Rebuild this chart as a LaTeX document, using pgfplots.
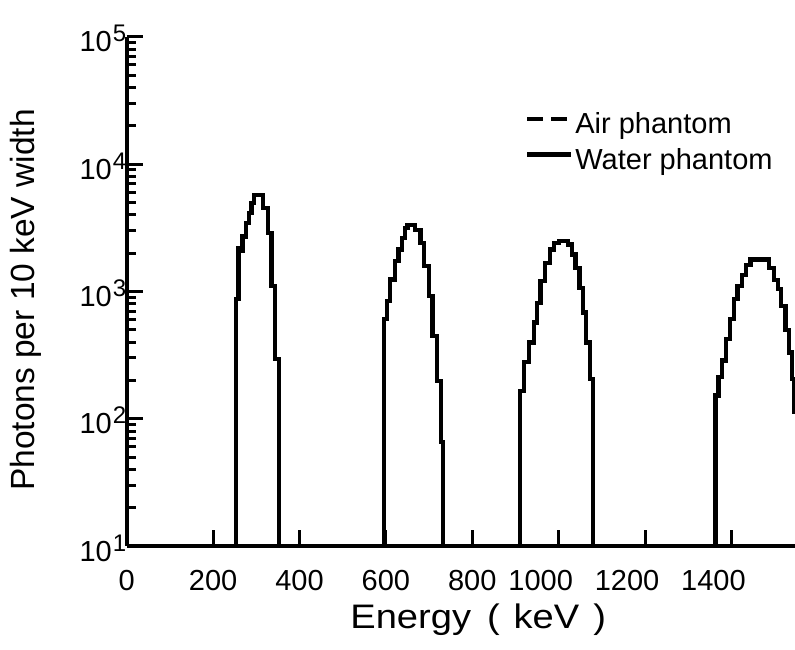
\documentclass[border=0pt]{standalone}
\usepackage{fontspec}
\setmainfont{Liberation Sans}
\newfontfamily\widefont[FakeStretch=1.12]{Liberation Sans}
\usepackage{pgfplots}
\pgfplotsset{compat=1.18}
\newcommand{\tp}[1]{10\kern1bp\raisebox{10bp}{\fontsize{24bp}{24bp}\selectfont #1}}
\begin{document}
\begin{tikzpicture}
\useasboundingbox (0,0) rectangle (795bp,650bp);
\begin{axis}[
  at={(126.7bp,104bp)}, anchor=south west,
  scale only axis, width=668.3bp, height=509.3bp,
  ymode=log, xmin=0, xmax=1547, ymin=10, ymax=100000,
  axis x line=bottom, axis y line=left,
  axis line style={-, line width=3.6bp},
  xtick={0,200,400,600,800,1000,1200,1400},
  xticklabels={0,200,400,600,800,{1000\kern36bp},{1200\kern36bp},{1400\kern36bp}},
  ytick={10,100,1000,10000,100000},
  yticklabels={\tp{1},\tp{2},\tp{3},\tp{4},\tp{5}},
  minor ytick={20,30,40,50,60,70,80,90,200,300,400,500,600,700,800,900,2000,3000,4000,5000,6000,7000,8000,9000,20000,30000,40000,50000,60000,70000,80000,90000},
  tick align=inside,
  major tick length=16bp, minor tick length=9bp,
  every tick/.style={black, line width=3bp},
  ticklabel style={font=\fontsize{29bp}{31bp}\selectfont},
  xticklabel style={yshift=-21bp},
  yticklabel style={xshift=3bp, yshift=-2bp},
  xlabel={Energy\hspace{16bp}(\hspace{14bp}keV\hspace{14bp})}, ylabel={Photons per 10 keV width},
  xlabel style={font=\widefont\fontsize{34bp}{38bp}\selectfont, at={(axis description cs:0.526,-0.145)}, anchor=center},
  ylabel style={font=\fontsize{33.5bp}{38bp}\selectfont, at={(axis description cs:-0.151,0.483)}, anchor=center},
  legend style={at={(axis description cs:0.596,0.855)}, anchor=north west, draw=none, fill=none,
    inner sep=0pt, font=\fontsize{29bp}{31bp}\selectfont, row sep=9bp,
    /tikz/every even column/.append style={column sep=6bp}},
  legend cell align=left,
  legend image code/.code={\draw[#1] (0bp,5bp) -- (44bp,5bp);},
]
\addplot[const plot, black, line width=4.2bp, dash pattern=on 16bp off 8bp] coordinates {
(0,10) (253,866) (259,2200) (268,2750) (276,3440) (284,4120) (289,4930) (294,5730) (316,4510) (327,2870) (335,1100) (343,294) (353,10)
(596,604) (602,840) (610,1240) (621,1725) (629,2128) (637,2625) (645,3140) (650,3335) (668,3047) (680,2400) (688,1577) (699,918) (708,448) (718,199) (727,66) (733,10)
(911,166) (920,277) (931,397) (943,569) (950,815) (958,1205) (968,1675) (979,2128) (990,2400) (1000,2470) (1022,2330) (1031,1945) (1039,1530) (1048,1070) (1056,681) (1064,397) (1072,205) (1079,10)
(1363,152) (1370,212) (1378,286) (1388,422) (1397,603) (1405,870) (1414,1100) (1425,1350) (1433,1620) (1444,1780) (1486,1530) (1498,1230) (1507,1040) (1515,767) (1525,500) (1533,331) (1540,205) (1544,113) (1547,113)
};
\addlegendentry{Air phantom}
\addplot[const plot, black, line width=4.2bp] coordinates {
(0,10) (253,866) (259,2070) (268,2700) (276,3440) (284,4120) (289,4930) (294,5730) (316,4510) (327,2870) (335,1100) (343,294) (353,10)
(596,604) (602,840) (610,1240) (621,1725) (629,2128) (637,2625) (645,3140) (650,3335) (668,3047) (680,2400) (688,1577) (699,918) (708,448) (718,199) (727,66) (733,10)
(911,166) (920,277) (931,397) (943,569) (950,815) (958,1205) (968,1675) (979,2128) (990,2400) (1000,2470) (1022,2330) (1031,1945) (1039,1530) (1048,1070) (1056,681) (1064,397) (1072,205) (1079,10)
(1363,152) (1370,212) (1378,286) (1388,422) (1397,603) (1405,870) (1414,1100) (1425,1350) (1433,1620) (1444,1780) (1486,1530) (1498,1230) (1507,1040) (1515,767) (1525,500) (1533,331) (1540,205) (1544,113) (1547,113)
};
\addlegendentry{Water phantom}
\end{axis}
\end{tikzpicture}
\end{document}
